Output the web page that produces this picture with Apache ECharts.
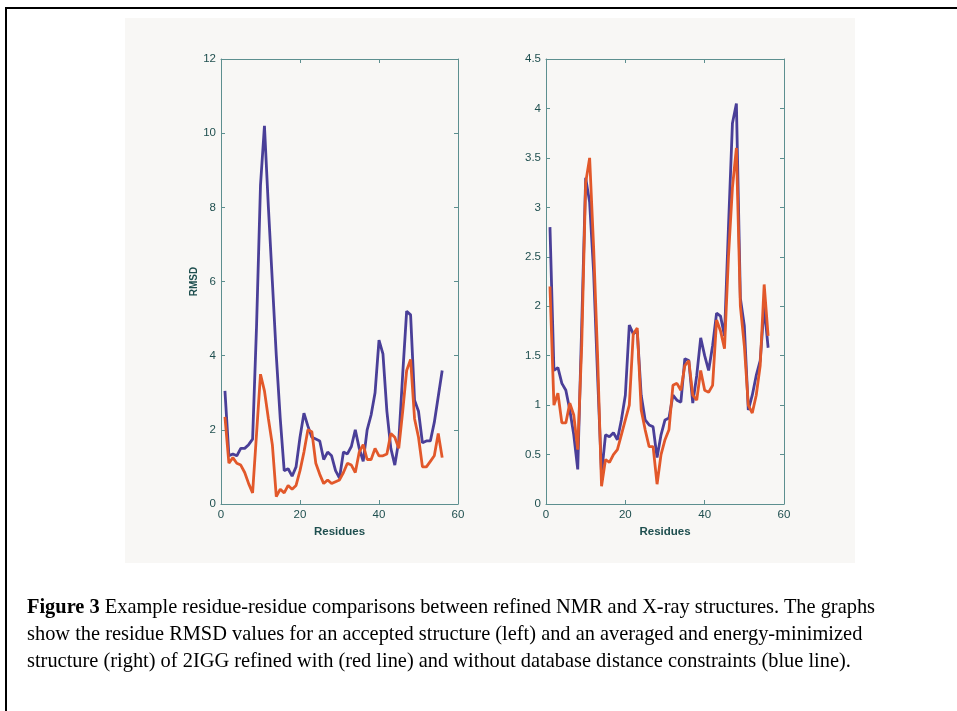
<!DOCTYPE html>
<html>
<head>
<meta charset="utf-8">
<script src="https://cdn.jsdelivr.net/npm/echarts@6/dist/echarts.min.js"></script>
<style>
body{margin:0;background:#fff;overflow:hidden;}
#frame{position:absolute;left:5px;top:7px;width:980px;height:740px;border-left:2px solid #000;border-top:2px solid #000;}
#panel{position:absolute;left:125px;top:18px;width:730px;height:545px;background:#f8f7f5;}
#chart{position:absolute;left:0;top:0;width:957px;height:711px;}
#caption{position:absolute;left:27px;top:593px;font-family:"Liberation Serif",serif;font-size:20.4px;line-height:27px;color:#000;white-space:nowrap;}
</style>
</head>
<body>
<div id="frame"></div>
<div id="panel"></div>
<div id="chart"></div>
<div id="caption"><b>Figure 3</b> Example residue-residue comparisons between refined NMR and X-ray structures. The graphs<br>show the residue RMSD values for an accepted structure (left) and an averaged and energy-minimized<br>structure (right) of 2IGG refined with (red line) and without database distance constraints (blue line).</div>
<script>
// residue numbers (x)
var residues = [1,2,3,4,5,6,7,8,9,10,11,12,13,14,15,16,17,18,19,20,21,22,23,24,25,26,27,28,
  29,30,31,32,33,34,35,36,37,38,39,40,41,42,43,44,45,46,47,48,49,50,51,52,53,54,55,56];

// left panel: accepted structure
var leftBlue = [3.05,1.3,1.35,1.3,1.5,1.5,1.6,1.75,4.8,8.6,10.2,8.0,6.0,4.0,2.3,0.9,0.95,0.75,1.0,1.8,
  2.45,2.1,1.8,1.75,1.7,1.2,1.4,1.3,0.9,0.7,1.4,1.35,1.55,2.0,1.5,1.15,2.0,2.4,3.0,4.42,
  4.05,2.5,1.5,1.05,1.7,3.5,5.2,5.1,2.8,2.5,1.65,1.7,1.7,2.2,2.9,3.6];
var leftRed = [2.35,1.1,1.25,1.1,1.05,0.85,0.55,0.3,1.9,3.5,3.05,2.3,1.6,0.2,0.4,0.3,0.5,0.4,0.5,0.9,
  1.4,2.0,1.95,1.1,0.8,0.55,0.65,0.55,0.6,0.65,0.85,1.1,1.05,0.85,1.4,1.6,1.2,1.2,1.5,1.3,
  1.3,1.35,1.9,1.8,1.5,2.5,3.6,3.9,2.3,1.8,1.0,1.0,1.15,1.3,1.9,1.25];

// right panel: averaged + energy-minimized structure
var rightBlue = [2.8,1.35,1.38,1.22,1.15,0.95,0.7,0.35,1.8,3.3,3.05,2.35,1.3,0.3,0.7,0.68,0.72,0.65,0.85,1.1,
  1.81,1.72,1.75,1.1,0.85,0.8,0.78,0.47,0.7,0.85,0.87,1.1,1.05,1.03,1.47,1.45,1.02,1.3,1.68,1.5,
  1.35,1.6,1.93,1.9,1.7,2.8,3.85,4.05,2.08,1.8,0.95,1.1,1.3,1.45,2.0,1.58];
var rightRed = [2.2,1.0,1.12,0.82,0.82,1.02,0.9,0.55,1.6,3.25,3.5,2.6,1.5,0.18,0.45,0.42,0.5,0.55,0.7,0.85,
  1.0,1.72,1.78,0.95,0.75,0.58,0.58,0.2,0.5,0.65,0.75,1.2,1.22,1.15,1.4,1.45,1.1,1.05,1.35,1.15,
  1.13,1.2,1.86,1.75,1.57,2.5,3.2,3.6,2.0,1.6,1.0,0.92,1.1,1.4,2.22,1.7];

var leftYMax = 12, leftYStep = 2;
var rightYMax = 4.5, rightYStep = 0.5;

function pairs(vals) {
  return residues.map(function (r, i) { return [r, vals[i]]; });
}

var axisCol = '#5d8f8f';
var labelCol = '#1f4f4f';
var lab = { color: labelCol, fontSize: 11.5, fontFamily: 'Liberation Sans', margin: 5 };

function xAx(grid, pos, showLabel, name) {
  return {
    type: 'value', gridIndex: grid, position: pos, min: 0, max: 60, interval: 20,
    axisLine: { show: true, onZero: false, lineStyle: { color: axisCol, width: 1 } },
    axisTick: { show: true, inside: true, length: 4, lineStyle: { color: axisCol } },
    axisLabel: Object.assign({ show: showLabel }, lab),
    splitLine: { show: false },
    name: name || '', nameLocation: 'middle', nameGap: 22,
    nameTextStyle: { color: labelCol, fontWeight: 'bold', fontSize: 11.5, fontFamily: 'Liberation Sans' }
  };
}
function yAx(grid, pos, showLabel, max, step, name) {
  return {
    type: 'value', gridIndex: grid, position: pos, min: 0, max: max, interval: step,
    axisLine: { show: true, onZero: false, lineStyle: { color: axisCol, width: 1 } },
    axisTick: { show: true, inside: true, length: 4, lineStyle: { color: axisCol } },
    axisLabel: Object.assign({ show: showLabel }, lab),
    splitLine: { show: false },
    name: name || '', nameLocation: 'middle', nameGap: 20, nameRotate: 90,
    nameTextStyle: { color: labelCol, fontWeight: 'bold', fontSize: 10, fontFamily: 'Liberation Sans' }
  };
}
function line(name, vals, color, xi, yi) {
  return {
    name: name, type: 'line', xAxisIndex: xi, yAxisIndex: yi, data: pairs(vals),
    symbol: 'none', smooth: false, animation: false,
    lineStyle: { color: color, width: 2.8 }
  };
}

var blue = '#4a3f98';
var red = '#e2582a';

var myChart = echarts.init(document.getElementById('chart'));
var option = {
  backgroundColor: 'transparent',
  animation: false,
  grid: [
    { left: 221, top: 59, width: 237, height: 445 },
    { left: 546, top: 59, width: 238, height: 445 }
  ],
  xAxis: [
    xAx(0, 'bottom', true, 'Residues'), xAx(0, 'top', false),
    xAx(1, 'bottom', true, 'Residues'), xAx(1, 'top', false)
  ],
  yAxis: [
    yAx(0, 'left', true, leftYMax, leftYStep, 'RMSD'), yAx(0, 'right', false, leftYMax, leftYStep),
    yAx(1, 'left', true, rightYMax, rightYStep), yAx(1, 'right', false, rightYMax, rightYStep)
  ],
  series: [
    line('left without db', leftBlue, blue, 0, 0),
    line('left with db', leftRed, red, 0, 0),
    line('right without db', rightBlue, blue, 2, 2),
    line('right with db', rightRed, red, 2, 2)
  ]
};
myChart.setOption(option);
</script>
</body>
</html>
